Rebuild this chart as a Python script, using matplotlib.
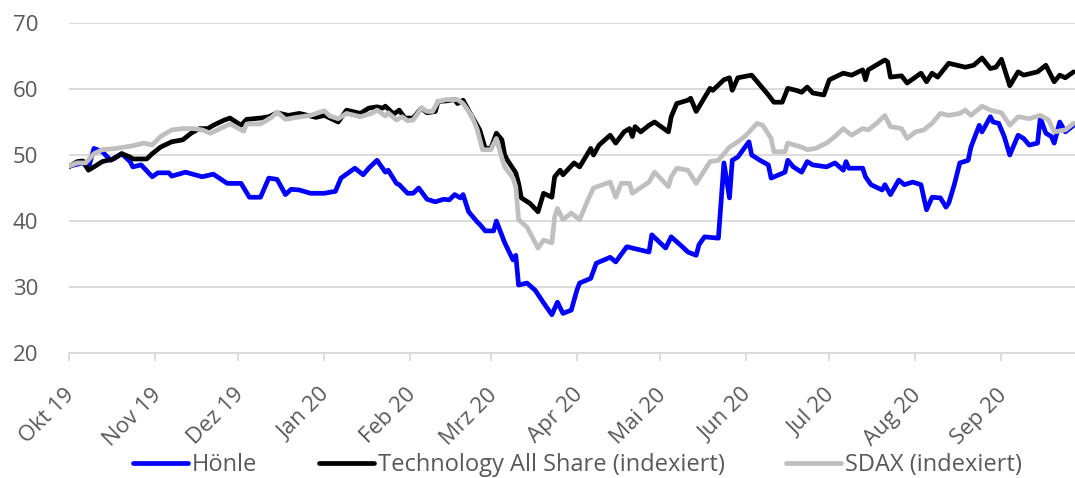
import matplotlib
matplotlib.use("Agg")
import matplotlib.pyplot as plt
import matplotlib.transforms as mtransforms
import pandas as pd

plt.rcParams['font.family'] = ['Open Sans', 'DejaVu Sans']

# Hönle
hoenle_dates = ['2019-10-01', '2019-10-06', '2019-10-08', '2019-10-10', '2019-10-13', '2019-10-16', '2019-10-20',
                '2019-10-23', '2019-10-24', '2019-10-27', '2019-10-31', '2019-11-02', '2019-11-06', '2019-11-07',
                '2019-11-12', '2019-11-18', '2019-11-22', '2019-11-27', '2019-12-02', '2019-12-05', '2019-12-09',
                '2019-12-12', '2019-12-15', '2019-12-18', '2019-12-20', '2019-12-23', '2019-12-27', '2020-01-01',
                '2020-01-05', '2020-01-07', '2020-01-10', '2020-01-12', '2020-01-15', '2020-01-17', '2020-01-20',
                '2020-01-23', '2020-01-24', '2020-01-27', '2020-01-28', '2020-01-31', '2020-02-02', '2020-02-04',
                '2020-02-07', '2020-02-10', '2020-02-13', '2020-02-15', '2020-02-17', '2020-02-19', '2020-02-20',
                '2020-02-22', '2020-02-25', '2020-02-26', '2020-02-28', '2020-03-02', '2020-03-03', '2020-03-06',
                '2020-03-09', '2020-03-10', '2020-03-11', '2020-03-14', '2020-03-17', '2020-03-20', '2020-03-23',
                '2020-03-25', '2020-03-27', '2020-03-30', '2020-04-01', '2020-04-02', '2020-04-06', '2020-04-08',
                '2020-04-13', '2020-04-15', '2020-04-19', '2020-04-21', '2020-04-27', '2020-04-28', '2020-05-03',
                '2020-05-05', '2020-05-09', '2020-05-11', '2020-05-14', '2020-05-15', '2020-05-17', '2020-05-22',
                '2020-05-24', '2020-05-26', '2020-05-27', '2020-05-29', '2020-06-02', '2020-06-03', '2020-06-06',
                '2020-06-09', '2020-06-10', '2020-06-15', '2020-06-16', '2020-06-18', '2020-06-21', '2020-06-23',
                '2020-06-25', '2020-06-30', '2020-07-03', '2020-07-06', '2020-07-07', '2020-07-08', '2020-07-13',
                '2020-07-14', '2020-07-16', '2020-07-20', '2020-07-21', '2020-07-23', '2020-07-26', '2020-07-28',
                '2020-07-31', '2020-08-03', '2020-08-04', '2020-08-05', '2020-08-07', '2020-08-10', '2020-08-12',
                '2020-08-13', '2020-08-15', '2020-08-17', '2020-08-20', '2020-08-21', '2020-08-24', '2020-08-25',
                '2020-08-28', '2020-08-29', '2020-08-31', '2020-09-01', '2020-09-02', '2020-09-04', '2020-09-07',
                '2020-09-09', '2020-09-11', '2020-09-14', '2020-09-15', '2020-09-17', '2020-09-19', '2020-09-20',
                '2020-09-22', '2020-09-24', '2020-09-27']
hoenle_vals = [48.3, 48.8, 48.0, 51.0, 50.5, 49.2, 50.2, 49.0, 48.2, 48.5, 46.7, 47.3, 47.3, 46.8,
               47.4, 46.7, 47.1, 45.7, 45.7, 43.6, 43.6, 46.5, 46.3, 44.0, 44.8, 44.7, 44.2, 44.2,
               44.5, 46.5, 47.4, 48.0, 47.0, 48.0, 49.2, 47.4, 47.7, 45.7, 45.5, 44.2, 44.2, 45.0,
               43.3, 42.9, 43.3, 43.2, 44.0, 43.5, 44.0, 41.4, 39.9, 39.5, 38.5, 38.5, 40.0, 36.7,
               34.1, 34.8, 30.3, 30.6, 29.5, 27.6, 25.8, 27.7, 26.0, 26.5, 29.5, 30.6, 31.3, 33.6,
               34.5, 33.8, 36.1, 35.9, 35.3, 37.9, 35.9, 37.6, 36.1, 35.3, 34.8, 36.4, 37.6, 37.4,
               48.8, 43.5, 49.2, 49.7, 52.0, 50.0, 49.2, 48.5, 46.5, 47.4, 49.2, 48.2, 47.4, 49.0,
               48.5, 48.2, 48.8, 47.7, 49.0, 48.0, 48.0, 46.7, 45.5, 44.7, 45.5, 44.0, 46.2, 45.5,
               45.9, 45.5, 43.6, 41.7, 43.6, 43.5, 42.1, 42.7, 45.5, 48.8, 49.2, 51.2, 54.5, 53.5,
               55.8, 55.0, 54.8, 53.8, 52.8, 50.0, 53.0, 52.5, 51.5, 51.8, 55.6, 53.3, 52.8, 51.8,
               55.0, 53.5, 54.5]

# Technology All Share (indexiert)
tech_dates = ['2019-10-01', '2019-10-04', '2019-10-06', '2019-10-08', '2019-10-10', '2019-10-13', '2019-10-17',
              '2019-10-20', '2019-10-23', '2019-10-24', '2019-10-29', '2019-10-31', '2019-11-03', '2019-11-07',
              '2019-11-11', '2019-11-14', '2019-11-17', '2019-11-20', '2019-11-22', '2019-11-26', '2019-11-28',
              '2019-12-02', '2019-12-04', '2019-12-09', '2019-12-12', '2019-12-15', '2019-12-19', '2019-12-23',
              '2019-12-26', '2019-12-29', '2020-01-01', '2020-01-04', '2020-01-06', '2020-01-09', '2020-01-11',
              '2020-01-14', '2020-01-17', '2020-01-20', '2020-01-22', '2020-01-23', '2020-01-26', '2020-01-28',
              '2020-01-30', '2020-02-02', '2020-02-05', '2020-02-07', '2020-02-10', '2020-02-11', '2020-02-14',
              '2020-02-17', '2020-02-18', '2020-02-20', '2020-02-23', '2020-02-26', '2020-02-28', '2020-03-01',
              '2020-03-03', '2020-03-05', '2020-03-06', '2020-03-07', '2020-03-10', '2020-03-11', '2020-03-12',
              '2020-03-15', '2020-03-18', '2020-03-20', '2020-03-23', '2020-03-24', '2020-03-26', '2020-03-27',
              '2020-03-31', '2020-04-02', '2020-04-06', '2020-04-07', '2020-04-09', '2020-04-13', '2020-04-15',
              '2020-04-18', '2020-04-20', '2020-04-21', '2020-04-22', '2020-04-24', '2020-04-27', '2020-04-29',
              '2020-05-04', '2020-05-05', '2020-05-07', '2020-05-11', '2020-05-12', '2020-05-14', '2020-05-19',
              '2020-05-20', '2020-05-24', '2020-05-26', '2020-05-27', '2020-05-29', '2020-06-03', '2020-06-09',
              '2020-06-11', '2020-06-14', '2020-06-16', '2020-06-19', '2020-06-21', '2020-06-23', '2020-06-25',
              '2020-06-29', '2020-07-01', '2020-07-06', '2020-07-09', '2020-07-13', '2020-07-14', '2020-07-15',
              '2020-07-19', '2020-07-21', '2020-07-22', '2020-07-23', '2020-07-27', '2020-07-29', '2020-08-03',
              '2020-08-05', '2020-08-07', '2020-08-09', '2020-08-13', '2020-08-16', '2020-08-19', '2020-08-22',
              '2020-08-25', '2020-08-28', '2020-08-30', '2020-09-01', '2020-09-04', '2020-09-07', '2020-09-09',
              '2020-09-14', '2020-09-17', '2020-09-20', '2020-09-22', '2020-09-24', '2020-09-27']
tech_vals = [48.2, 49.0, 49.1, 47.7, 48.2, 49.0, 49.4, 50.2, 49.7, 49.4, 49.4, 50.2, 51.2, 52.0,
             52.3, 53.3, 54.0, 54.0, 54.5, 55.3, 55.6, 54.5, 55.4, 55.6, 55.8, 56.4, 56.0, 56.3,
             56.0, 55.7, 56.0, 55.4, 55.0, 56.8, 56.6, 56.3, 57.1, 57.3, 57.1, 57.4, 56.2, 56.8,
             55.6, 55.6, 57.1, 56.4, 56.6, 58.1, 58.2, 58.4, 57.8, 58.3, 56.0, 53.8, 51.0, 51.0,
             53.3, 52.3, 50.0, 49.2, 47.3, 45.7, 43.5, 42.7, 41.4, 44.2, 43.6, 46.7, 47.7, 47.0,
             48.8, 48.2, 51.0, 50.0, 51.5, 53.0, 51.8, 53.5, 54.0, 52.8, 54.3, 53.5, 54.5, 55.0,
             53.5, 55.8, 57.8, 58.3, 58.6, 56.6, 60.1, 59.8, 61.4, 61.7, 59.8, 61.7, 62.1, 59.1,
             58.0, 58.0, 60.1, 59.8, 59.5, 60.3, 59.4, 59.1, 61.4, 62.4, 62.1, 62.9, 61.4, 62.9,
             63.9, 64.4, 64.1, 61.8, 62.0, 60.9, 62.4, 61.1, 62.4, 61.8, 63.9, 63.6, 63.3, 63.6,
             64.7, 63.1, 63.3, 64.5, 60.5, 62.6, 62.1, 62.6, 63.6, 61.1, 62.1, 61.7, 62.6]

# SDAX (indexiert)
sdax_dates = ['2019-10-01', '2019-10-04', '2019-10-07', '2019-10-10', '2019-10-13', '2019-10-18', '2019-10-21',
              '2019-10-24', '2019-10-28', '2019-10-31', '2019-11-03', '2019-11-07', '2019-11-11', '2019-11-15',
              '2019-11-18', '2019-11-21', '2019-11-26', '2019-11-28', '2019-12-03', '2019-12-04', '2019-12-09',
              '2019-12-13', '2019-12-15', '2019-12-18', '2019-12-22', '2019-12-27', '2020-01-01', '2020-01-03',
              '2020-01-06', '2020-01-09', '2020-01-14', '2020-01-18', '2020-01-20', '2020-01-23', '2020-01-24',
              '2020-01-27', '2020-01-29', '2020-01-31', '2020-02-02', '2020-02-05', '2020-02-07', '2020-02-09',
              '2020-02-11', '2020-02-14', '2020-02-18', '2020-02-20', '2020-02-23', '2020-02-25', '2020-02-27',
              '2020-03-01', '2020-03-03', '2020-03-05', '2020-03-06', '2020-03-09', '2020-03-10', '2020-03-11',
              '2020-03-14', '2020-03-16', '2020-03-18', '2020-03-20', '2020-03-23', '2020-03-24', '2020-03-25',
              '2020-03-27', '2020-03-30', '2020-04-02', '2020-04-05', '2020-04-07', '2020-04-13', '2020-04-15',
              '2020-04-17', '2020-04-20', '2020-04-21', '2020-04-27', '2020-04-29', '2020-05-04', '2020-05-05',
              '2020-05-07', '2020-05-11', '2020-05-14', '2020-05-19', '2020-05-22', '2020-05-26', '2020-05-29',
              '2020-06-01', '2020-06-05', '2020-06-07', '2020-06-10', '2020-06-11', '2020-06-15', '2020-06-16',
              '2020-06-21', '2020-06-23', '2020-06-26', '2020-06-30', '2020-07-03', '2020-07-06', '2020-07-09',
              '2020-07-13', '2020-07-15', '2020-07-18', '2020-07-21', '2020-07-23', '2020-07-27', '2020-07-29',
              '2020-08-01', '2020-08-04', '2020-08-07', '2020-08-10', '2020-08-13', '2020-08-17', '2020-08-19',
              '2020-08-21', '2020-08-25', '2020-08-28', '2020-09-01', '2020-09-04', '2020-09-07', '2020-09-11',
              '2020-09-15', '2020-09-18', '2020-09-20', '2020-09-24', '2020-09-27']
sdax_vals = [48.3, 48.8, 48.8, 50.2, 50.8, 51.0, 51.2, 51.4, 51.8, 51.5, 52.8, 53.8, 54.0, 54.0,
             53.8, 53.3, 54.3, 54.7, 53.6, 54.7, 54.7, 55.7, 56.5, 55.4, 55.7, 56.0, 56.7, 55.9,
             55.5, 56.3, 55.8, 56.3, 56.8, 55.9, 56.4, 55.3, 55.8, 55.2, 55.3, 57.1, 56.6, 56.6,
             58.1, 58.4, 58.4, 57.8, 56.0, 54.0, 50.8, 50.8, 52.5, 49.5, 48.2, 46.5, 45.2, 40.2,
             39.1, 37.5, 35.9, 37.1, 36.7, 40.6, 41.9, 40.2, 41.2, 40.2, 43.2, 45.0, 45.9, 43.6,
             45.7, 45.7, 44.2, 45.9, 47.4, 45.2, 46.7, 48.0, 47.7, 45.7, 49.0, 49.2, 51.2, 52.0,
             53.0, 54.8, 54.5, 52.5, 50.5, 50.5, 51.8, 51.2, 50.8, 51.0, 51.8, 52.8, 54.0, 53.0,
             54.0, 53.8, 54.8, 56.0, 54.3, 54.0, 52.5, 53.5, 53.8, 54.8, 56.3, 56.0, 56.3, 56.8,
             56.0, 57.4, 56.8, 56.4, 54.5, 55.8, 55.5, 56.0, 55.3, 53.5, 53.8, 54.8]

month_ticks = ['2019-10-01', '2019-11-01', '2019-12-01', '2020-01-01', '2020-02-01', '2020-03-01',
               '2020-04-01', '2020-05-01', '2020-06-01', '2020-07-01', '2020-08-01', '2020-09-01']
month_labels = ['Okt 19', 'Nov 19', 'Dez 19', 'Jan 20', 'Feb 20', 'Mrz 20',
                'Apr 20', 'Mai 20', 'Jun 20', 'Jul 20', 'Aug 20', 'Sep 20']

text_col = '#595959'
grid_col = '#d9d9d9'

fig = plt.figure(figsize=(10.75, 4.78), dpi=100)
ax = fig.add_axes([69 / 1075, 1 - 353 / 478, 1 - 69 / 1075, 330 / 478])

lw = 3.4
ax.plot(pd.to_datetime(hoenle_dates), hoenle_vals, color='#0000ff', lw=lw, solid_joinstyle='round',
        solid_capstyle='round', label='Hönle', zorder=3)
ax.plot(pd.to_datetime(tech_dates), tech_vals, color='#000000', lw=lw, solid_joinstyle='round',
        solid_capstyle='round', label='Technology All Share (indexiert)', zorder=4)
ax.plot(pd.to_datetime(sdax_dates), sdax_vals, color='#bfbfbf', lw=lw, solid_joinstyle='round',
        solid_capstyle='round', label='SDAX (indexiert)', zorder=5)

ax.set_ylim(20, 70)
ax.set_yticks([20, 30, 40, 50, 60, 70])
ax.set_xlim(pd.Timestamp('2019-10-01'), pd.Timestamp('2020-09-27 12:00'))
ax.set_xticks(pd.to_datetime(month_ticks))
ax.set_xticklabels(month_labels, rotation=45, ha='right', va='center', rotation_mode='anchor')

ax.grid(axis='y', color=grid_col, lw=1.3)
ax.set_axisbelow(True)
for s in ['top', 'right', 'left']:
    ax.spines[s].set_visible(False)
ax.spines['bottom'].set_color(grid_col)
ax.spines['bottom'].set_linewidth(1.3)

ax.tick_params(axis='y', length=0, pad=22, labelsize=16, labelcolor=text_col)
ax.tick_params(axis='x', length=6, width=1.3, color=grid_col, pad=22, labelsize=16, labelcolor=text_col)

# nudge rotated month labels a little to the right, as in the original
shift = mtransforms.ScaledTranslation(2 / 72, 0, fig.dpi_scale_trans)
for lab in ax.get_xticklabels():
    lab.set_transform(lab.get_transform() + shift)

leg = fig.legend(loc='center', bbox_to_anchor=(0.537, 0.027), ncol=3, frameon=False, fontsize=17,
                 handlelength=2.35, handletextpad=0.15, columnspacing=2.6, borderaxespad=0)
for t in leg.get_texts():
    t.set_color(text_col)

fig.savefig('out.png', dpi=100)
